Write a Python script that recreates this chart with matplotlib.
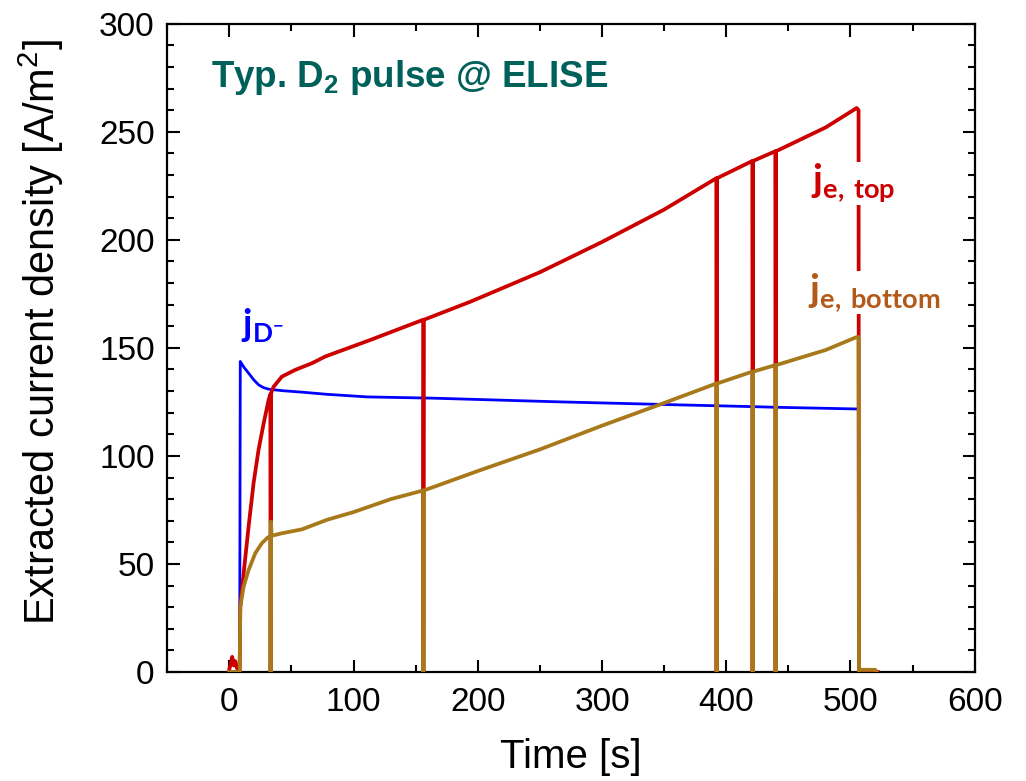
import matplotlib
matplotlib.use("Agg")
import matplotlib.pyplot as plt
from matplotlib.ticker import MultipleLocator

plt.rcParams["font.family"] = ["Liberation Sans", "DejaVu Sans"]
plt.rcParams["mathtext.fontset"] = "custom"
plt.rcParams["mathtext.rm"] = "Liberation Sans"
plt.rcParams["mathtext.sf"] = "Liberation Sans:bold"
plt.rcParams["mathtext.bf"] = "Lato:bold"

# Extracted negative ion current density j_D- [A/m^2] vs time [s]
t_ion = [0, 8.3, 8.8, 12, 15.5, 19.5, 23.5, 27.5, 31.6, 42.3, 58.4, 78.5, 111,
         156.0, 156.2, 156.5, 165, 266, 363,
         392.0, 392.2, 392.5, 421.0, 421.2, 421.5, 439.5, 439.7, 440.0,
         506.4, 506.6, 522]
j_ion = [0, 0, 143.7, 140.8, 138.3, 135.3, 132.9, 131.6, 130.9, 130.2, 129.5, 128.5, 127.3,
         126.8, 0, 126.8, 126.7, 125, 123.6,
         123.2, 0, 123.2, 122.8, 0, 122.8, 122.5, 0, 122.5,
         121.7, 0, 0]

# Co-extracted electron current density, top segment
t_top = [-0.5, 2.3, 3.5, 4.8, 6.0, 8.3, 8.8, 11.5, 15.5, 19.5, 23.5, 27.6, 31.6,
         33.0, 33.2, 33.6, 35.6, 42.3, 53, 66.5, 77.2, 113.7,
         156.0, 156.2, 156.6, 194.2, 250, 300, 350,
         392.0, 392.2, 392.6, 421.0, 421.2, 421.6, 439.5, 439.7, 440.1,
         480, 505, 506.5, 506.8, 522]
j_top = [0, 7, 3, 5, 2, 0, 30.2, 45.7, 67.3, 87.4, 102.8, 115, 125.9,
         128.5, 0, 129, 132, 136.7, 139.8, 142.9, 146, 153.7,
         163, 0, 163, 171.4, 185, 199, 214,
         228.5, 0, 228.5, 236.5, 0, 236.5, 241, 0, 241,
         252, 261, 260, 0, 0]

# Co-extracted electron current density, bottom segment
t_bot = [0, 8.3, 8.8, 11.5, 15.5, 20.9, 26.2, 31.0,
         33.0, 33.2, 33.5, 34, 42.3, 58.4, 78.5, 100, 130,
         156.0, 156.2, 156.6, 200, 250, 300, 350,
         392.0, 392.2, 392.6, 421.0, 421.2, 421.6, 439.5, 439.7, 440.1,
         480, 505, 506.5, 506.8, 507, 520, 521]
j_bot = [0, 0, 30, 39.5, 47.2, 55, 59.6, 62.3,
         62.6, 0, 69.6, 63, 64.2, 66, 70.4, 74, 80,
         84, 0, 84, 93, 103, 114, 124.5,
         133.5, 0, 133.5, 139, 0, 139, 142, 0, 142,
         149, 155, 155, 0, 1, 1, 0]

fig = plt.figure(figsize=(10.26, 7.81), dpi=100)
ax = fig.add_axes([0.163, 0.1396, 0.787, 0.830])

ax.plot(t_ion, j_ion, color="#0000ff", lw=2.0, zorder=2)
ax.plot(t_top, j_top, color="#cc0000", lw=2.7, zorder=3)
ax.plot(t_bot, j_bot, color="#a8791a", lw=2.7, zorder=4)

ax.set_xlim(-50, 600)
ax.set_ylim(0, 300)
ax.xaxis.set_major_locator(MultipleLocator(100))
ax.xaxis.set_minor_locator(MultipleLocator(50))
ax.yaxis.set_major_locator(MultipleLocator(50))
ax.yaxis.set_minor_locator(MultipleLocator(10))
ax.tick_params(which="both", direction="in", top=True, right=True,
               width=1.5, labelsize=24, colors="black")
ax.tick_params(which="major", length=9)
ax.tick_params(which="minor", length=5)
ax.tick_params(axis="x", pad=11)
ax.tick_params(axis="y", pad=9)
for s in ax.spines.values():
    s.set_linewidth(1.6)

ax.set_xlabel("Time [s]", fontsize=29, labelpad=14)
ax.set_ylabel(r"Extracted current density [A/m$^\mathrm{2}$]", fontsize=30)
ax.yaxis.set_label_coords(-0.125, 0.525)

ax.text(-15, 275, r"Typ. D$_\mathsf{2}$ pulse @ ELISE", fontsize=26.5,
        fontweight="bold", color="#00605a", va="center", ha="left")

box = dict(facecolor="white", edgecolor="none", pad=0)
ax.text(9, 160, r"$\mathbf{j}_{\mathbf{D}^{\mathbf{-}}}$", fontsize=27,
        color="#0000ff", va="center", ha="left")
ax.text(468, 226, r"$\mathbf{j}_{\mathbf{e,\,top}}$", fontsize=28,
        color="#cc0000", va="center", ha="left", bbox=box, zorder=5)
ax.text(466, 175.5, r"$\mathbf{j}_{\mathbf{e,\,bottom}}$", fontsize=28,
        color="#b35a1a", va="center", ha="left", bbox=box, zorder=5)

fig.savefig("out.png", dpi=100)
